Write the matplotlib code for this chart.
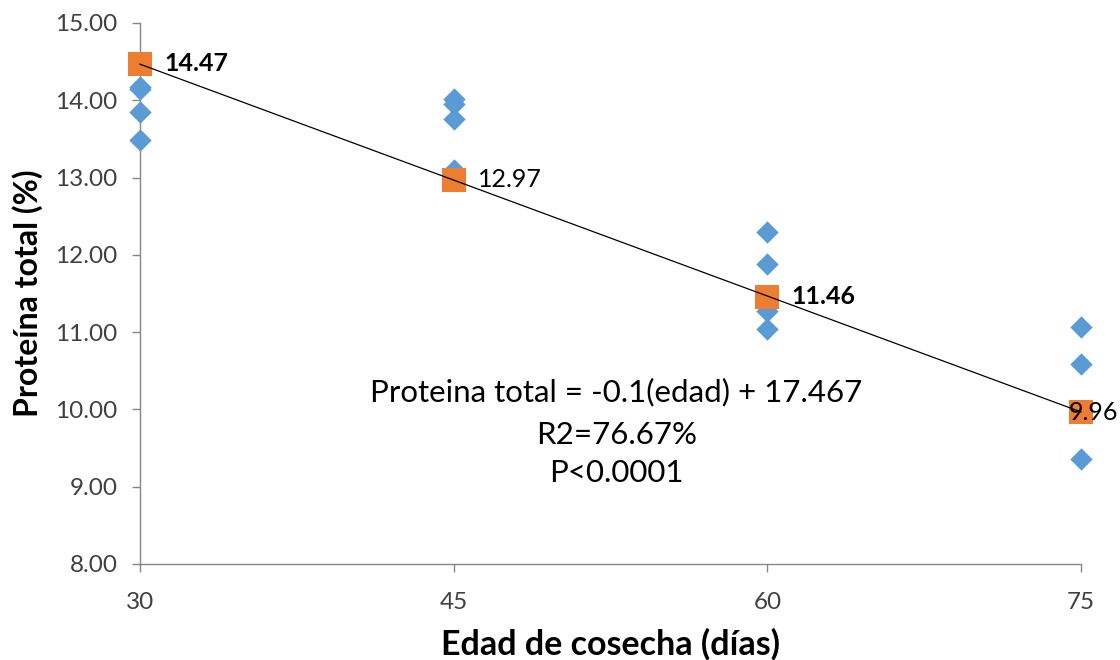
import matplotlib
matplotlib.use("Agg")
import matplotlib.pyplot as plt
import numpy as np

plt.rcParams['font.family'] = ['Lato', 'DejaVu Sans']

# Observed data (blue diamonds)
obs_x = [30, 30, 30, 30, 45, 45, 45, 45, 60, 60, 60, 60, 75, 75, 75]
obs_y = [14.17, 14.14, 13.85, 13.48,
         14.02, 13.95, 13.76, 13.10,
         12.29, 11.88, 11.27, 11.04,
         11.06, 10.59, 9.36]

# Fitted values (orange squares)
fit_x = [30, 45, 60, 75]
fit_y = [14.47, 12.97, 11.46, 9.96]
fit_labels = ["14.47", "12.97", "11.46", "9.96"]
label_weights = ["bold", "normal", "bold", "normal"]
label_dx = [24, 24, 24, -12]

slope = -0.1
intercept = 17.467

x_ticks = [30, 45, 60, 75]
y_ticks = [8, 9, 10, 11, 12, 13, 14, 15]

blue = "#5B9BD5"
orange = "#ED7D31"
axis_gray = "#868686"
text_col = "#404040"

fig = plt.figure(figsize=(11.2, 6.6), dpi=100)
ax = fig.add_axes([0.125, 0.1455, 0.8402, 0.8197])

ax.scatter(obs_x, obs_y, marker="D", s=130, color=blue, linewidths=0, zorder=3, clip_on=False)
ax.scatter(fit_x, fit_y, marker="s", s=300, color=orange, linewidths=0, zorder=4, clip_on=False)

xl = np.array([min(fit_x), max(fit_x)])
ax.plot(xl, intercept + slope * xl, color="black", lw=0.9, zorder=5, clip_on=False)

for x, y, lab, w, dx in zip(fit_x, fit_y, fit_labels, label_weights, label_dx):
    ax.annotate(lab, (x, y), xytext=(dx, 0), textcoords="offset pixels",
                ha="left", va="center", fontsize=18, fontweight=w,
                color="black", zorder=6, annotation_clip=False)

ax.text(0.506, 0.318, "Proteina total = -0.1(edad) + 17.467", transform=ax.transAxes,
        ha="center", va="center", fontsize=22.5, color="black")
ax.text(0.506, 0.238, "R2=76.67%", transform=ax.transAxes,
        ha="center", va="center", fontsize=22.5, color="black")
ax.text(0.506, 0.168, "P<0.0001", transform=ax.transAxes,
        ha="center", va="center", fontsize=22.5, color="black")

ax.set_xlim(30, 75)
ax.set_ylim(8, 15)
ax.set_xticks(x_ticks)
ax.set_xticklabels([str(t) for t in x_ticks])
ax.set_yticks(y_ticks)
ax.set_yticklabels([f"{t:.2f}" for t in y_ticks])

for side in ["top", "right"]:
    ax.spines[side].set_visible(False)
for side in ["left", "bottom"]:
    ax.spines[side].set_color(axis_gray)
    ax.spines[side].set_linewidth(1.0)

ax.tick_params(axis="both", colors=axis_gray, labelcolor=text_col, labelsize=17.5,
               length=6, width=1.0, direction="out")
ax.tick_params(axis="x", pad=14)
ax.tick_params(axis="y", pad=10)

ax.set_ylabel("Proteína total (%)", fontsize=23, fontweight="bold", color="black", labelpad=9)
ax.set_xlabel("Edad de cosecha (días)", fontsize=24.5, fontweight="bold", color="black", labelpad=11)

fig.savefig("out.png", dpi=100)
